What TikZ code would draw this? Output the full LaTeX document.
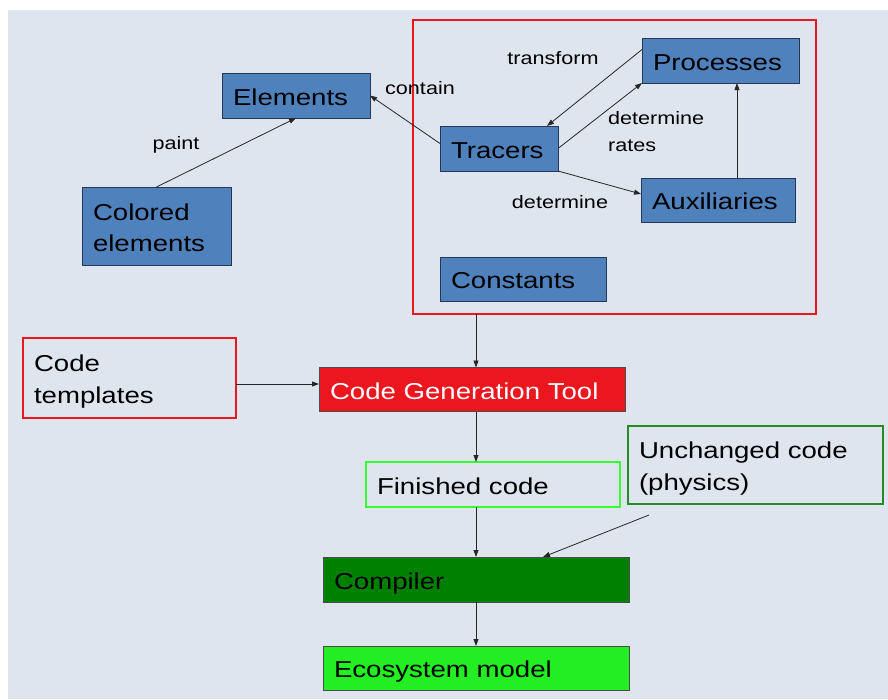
\documentclass[tikz,border=0pt]{standalone}
\usepackage{fontspec}
\setmainfont{Liberation Sans}[FakeStretch=1.2]
\definecolor{mdbg}{RGB}{223,229,239}
\definecolor{mdblue}{RGB}{79,129,189}
\definecolor{mdnavy}{RGB}{38,56,88}
\definecolor{mdred}{RGB}{236,22,30}
\definecolor{mdlime}{RGB}{51,255,51}
\definecolor{mdforest}{RGB}{36,140,36}
\definecolor{mddark}{RGB}{0,128,0}
\definecolor{mdbright}{RGB}{34,238,34}
\usetikzlibrary{arrows.meta,positioning,calc}

\begin{document}
\begin{tikzpicture}[x=1pt, y=-1pt,
    modelbox/.style={rectangle, draw=mdnavy, line width=1pt, fill=mdblue, inner xsep=11pt, inner ysep=0pt,
      outer sep=0pt, minimum height=45pt, align=left, text height=19pt, text depth=0pt,
      font=\fontsize{23}{31}\selectfont},
    flowbox/.style={rectangle, line width=1pt, inner xsep=11pt, inner ysep=0pt,
      outer sep=0pt, minimum height=45pt, align=left, text height=19pt, text depth=0pt,
      font=\fontsize{23}{32}\selectfont},
    lbl/.style={inner sep=0pt, align=left, font=\fontsize{18}{27}\selectfont},
    arr/.style={-{Triangle[length=7pt,width=5pt]}, line width=0.8pt, black!85}
  ]
    \useasboundingbox (0,0) rectangle (888,699);
    \fill[mdbg] (8,10) rectangle (888,699);

    % Model frame
    \node[rectangle, draw=mdred, line width=2pt, outer sep=0pt, minimum width=403pt, minimum height=294pt]
      (frame) at (614.5,167) {};

    % Model parts
    \node[modelbox, text width=126pt] (elements) at (296,95.5) {Elements};
    \node[modelbox, text width=127pt, minimum height=78pt, text depth=31pt] (colored) at (156.5,226) {Colored\\elements};
    \node[modelbox, text width=135pt] (processes) at (720.5,60.5) {Processes};
    \node[modelbox, text width=96pt] (tracers) at (499,148.5) {Tracers};
    \node[modelbox, text width=132pt, minimum height=44pt] (auxiliaries) at (718,200) {Auxiliaries};
    \node[modelbox, text width=144pt, minimum height=44pt] (constants) at (523,279) {Constants};

    % Labels
    \node[lbl] (transformlbl) at (553,58) {transform};
    \node[lbl] (containlbl) at (420,88) {contain};
    \node[lbl, anchor=west] (rateslbl) at (608,131.5) {determine\\rates};
    \node[lbl] (paintlbl) at (176,145) {paint};
    \node[lbl] (determinelbl) at (560,202) {determine};

    % Arrows in the model
    \draw[arr] (colored.north) -- (elements.south);
    \draw[arr] ([yshift=5pt]tracers.west) -- (elements.east);
    \draw[arr] ([yshift=11pt]processes.west) -- ([xshift=-11pt]tracers.north east);
    \draw[arr] (tracers.east) -- (processes.south west);
    \draw[arr] (tracers.south east) -- ([yshift=6pt]auxiliaries.west);
    \draw[arr] ([xshift=19pt]auxiliaries.north) -- ([xshift=19pt]auxiliaries.north |- processes.south);

    % Code generation chain
    \node[flowbox, draw=mdred, line width=2pt, text width=191pt, minimum height=80pt, text depth=32pt] (templates) at (129.5,378) {Code\\templates};
    \node[flowbox, draw=black!70, fill=mdred, text=white, text width=284pt, minimum height=44pt] (cgt) at (472,389.5) {Code Generation Tool};
    \node[flowbox, draw=mdlime, line width=2pt, text width=232pt] (finished) at (493,484.5) {Finished code};
    \node[flowbox, draw=mdforest, line width=2pt, text width=233pt, minimum height=78pt, text depth=33pt] (unchanged) at (755.5,465) {Unchanged code\\(physics)};
    \node[flowbox, draw=black!70, fill=mddark, text width=284pt] (compiler) at (476,579.5) {Compiler};
    \node[flowbox, draw=black!70, fill=mdbright, text width=284pt, minimum height=44pt] (ecosystem) at (476,668) {Ecosystem model};

    % Arrows in the chain
    \coordinate (physout) at ([xshift=21pt,yshift=-11pt]unchanged.south west);
    \draw[arr] (frame.south -| compiler.north) -- (cgt.north -| compiler.north);
    \draw[arr] ([yshift=-6pt]templates.east) -- ([yshift=-6pt]templates.east -| cgt.west);
    \draw[arr] (cgt.south -| compiler.north) -- (finished.north -| compiler.north);
    \draw[arr] (finished.south -| compiler.north) -- (compiler.north);
    \draw[arr] (physout) -- ([xshift=67pt]compiler.north);
    \draw[arr] (compiler.south) -- (ecosystem.north);
  \end{tikzpicture}
\end{document}
